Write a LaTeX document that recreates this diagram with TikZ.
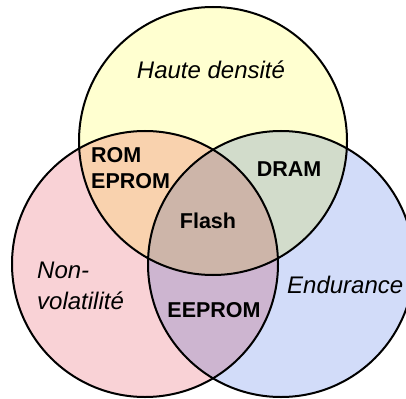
\documentclass[tikz,border=0pt]{standalone}
\usepackage{fontspec}
\setmainfont{Liberation Sans}
\definecolor{jaune}{HTML}{FFFFD0}
\definecolor{rose}{HTML}{F9D2D6}
\definecolor{bleu}{HTML}{D2DCF9}
\tikzset{
  zone/.style={font=\fontsize{24}{28}\selectfont\itshape},
  mem/.style={font=\fontsize{21.5}{26}\selectfont\bfseries}
}

\begin{document}
\begin{tikzpicture}[x=1pt,y=-1pt]
\useasboundingbox (0,0) rectangle (406,398);
\coordinate (T) at (213,141);
\coordinate (L) at (145,264);
\coordinate (R) at (281,264);
\begin{scope}[blend group=multiply]
\fill [jaune] (T) circle (134);
\fill [rose] (L) circle (133);
\fill [bleu] (R) circle (133);
\end{scope}
\draw [line width=2pt] (T) circle (134);
\draw [line width=2pt] (L) circle (133);
\draw [line width=2pt] (R) circle (133);
\node (H) [zone,anchor=base] at (211,79) {Haute densité};
\node (N) [zone,anchor=base west,inner sep=0pt] at (37,278) {Non-};
\node (V) [zone,anchor=base west,inner sep=0pt] at (37,309) {volatilité};
\node (E) [zone,anchor=base west,inner sep=0pt] at (287,293) {Endurance};
\node (ROM) [mem,anchor=base west,inner sep=0pt] at (91,162) {ROM};
\node (EPROM) [mem,anchor=base west,inner sep=0pt] at (91,188) {EPROM};
\node (DRAM) [mem,anchor=base] at (289,176) {DRAM};
\node (F) [mem,anchor=base] at (208,228) {Flash};
\node (EE) [mem,anchor=base] at (214,317) {EEPROM};
\end{tikzpicture}
\end{document}
